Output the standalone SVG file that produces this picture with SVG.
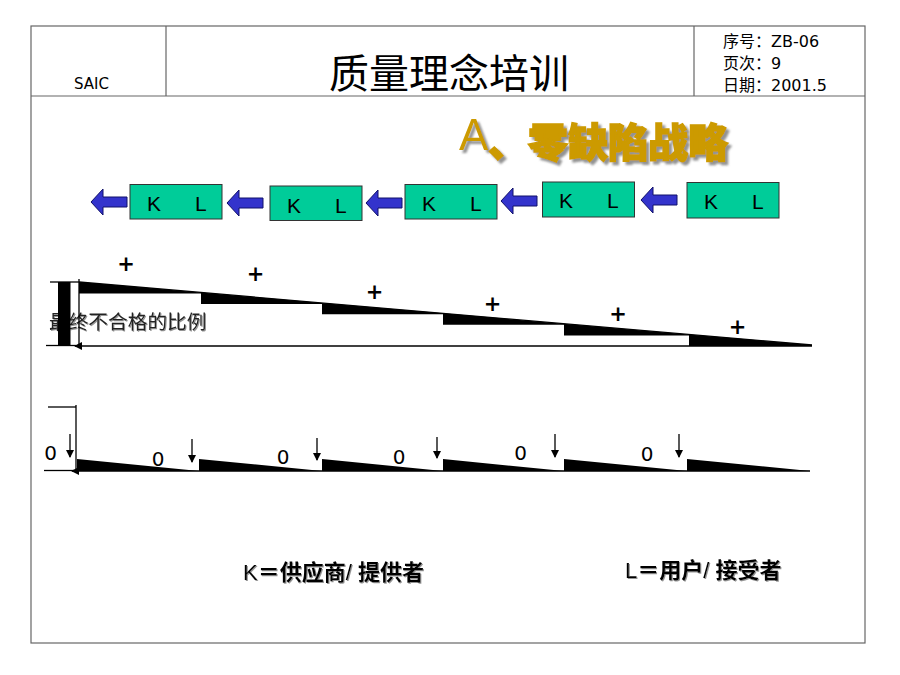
<svg xmlns="http://www.w3.org/2000/svg" width="900" height="675" viewBox="0 0 900 675">
<style>
.frame{fill:none;stroke:#666;stroke-width:1.2}
.box{fill:#00CC99;stroke:#333;stroke-width:1}
.kl{font-family:"Liberation Sans",Arial,sans-serif;font-size:21px;fill:#000}
.arr{fill:#3333CC;stroke:#10106A;stroke-width:1}
.ln{stroke:#000;stroke-width:1.3;fill:none}
.wedge{fill:#000}
.plus{font-family:"DejaVu Sans",sans-serif;font-size:21px;font-weight:bold;text-anchor:middle;fill:#000}
.zero{font-family:"DejaVu Sans",sans-serif;font-size:20px;text-anchor:middle;fill:#000}
.hdr{font-family:"DejaVu Sans","Noto Sans CJK SC",sans-serif;font-size:16px;fill:#000}
.leg{font-family:"Liberation Sans","Noto Sans CJK SC",sans-serif;font-size:22px;fill:#000}
</style>
<defs>
<filter id="sh" x="-10%" y="-20%" width="130%" height="160%">
<feDropShadow dx="3" dy="3" stdDeviation="1.2" flood-color="#777" flood-opacity="0.8"/>
</filter>
<filter id="sh2" x="-10%" y="-20%" width="130%" height="160%">
<feDropShadow dx="1" dy="1" stdDeviation="0.6" flood-color="#888" flood-opacity="0.9"/>
</filter>
<marker id="ah" markerWidth="8" markerHeight="8" refX="7" refY="4" orient="auto" markerUnits="userSpaceOnUse">
<path d="M0,0 L8,4 L0,8 Z" fill="#000"/>
</marker>
<path id="bluearrow" d="M0,0 L12,-13 L12,-5 L36,-5 L36,5 L12,5 L12,13 Z"/>
</defs>
<rect width="900" height="675" fill="#fff"/>

<g id="header">
<rect class="frame" x="31" y="26" width="834" height="617"/>
<line class="frame" x1="31" y1="96" x2="865" y2="96"/>
<line class="frame" x1="166" y1="26" x2="166" y2="96"/>
<line class="frame" x1="694" y1="26" x2="694" y2="96"/>
<text x="74" y="89" font-family="DejaVu Sans,sans-serif" font-size="15" fill="#000">SAIC</text>
<text x="449" y="88" text-anchor="middle" font-family="Noto Sans CJK SC,sans-serif" font-size="40" fill="#000">质量理念培训</text>
<text class="hdr" x="723" y="47">序号：ZB-06</text>
<text class="hdr" x="723" y="69">页次：9</text>
<text class="hdr" x="723" y="91">日期：2001.5</text>
</g>

<g id="heading" filter="url(#sh)">
<text x="459" y="150" font-family="Liberation Sans,sans-serif" font-size="44" fill="#CC9A00">A</text>
<text x="488" y="157" font-family="Noto Sans CJK SC,sans-serif" font-size="40" font-weight="900" fill="#CC9A00" stroke="#CC9A00" stroke-width="1.5">、零缺陷战略</text>
</g>

<g id="connectors">
<use href="#bluearrow" class="arr" transform="translate(91,202)"/>
<use href="#bluearrow" class="arr" transform="translate(227,203)"/>
<use href="#bluearrow" class="arr" transform="translate(366,203)"/>
<use href="#bluearrow" class="arr" transform="translate(501,201)"/>
<use href="#bluearrow" class="arr" transform="translate(641,200)"/>
</g>

<g id="node1"><rect class="box" x="130" y="184.5" width="92" height="34.5"/><text class="kl" x="147" y="211">K</text><text class="kl" x="195" y="211">L</text></g>
<g id="node2"><rect class="box" x="270" y="186" width="92" height="34.5"/><text class="kl" x="287" y="213">K</text><text class="kl" x="335" y="213">L</text></g>
<g id="node3"><rect class="box" x="405" y="184.5" width="92" height="34.5"/><text class="kl" x="422" y="211">K</text><text class="kl" x="470" y="211">L</text></g>
<g id="node4"><rect class="box" x="542.5" y="182" width="92" height="35"/><text class="kl" x="559" y="208">K</text><text class="kl" x="607" y="208">L</text></g>
<g id="node5"><rect class="box" x="687" y="182.5" width="92" height="35.5"/><text class="kl" x="704" y="209">K</text><text class="kl" x="752" y="209">L</text></g>

<g id="chart-top">
<text x="49" y="329" font-family="Noto Sans CJK SC,sans-serif" font-size="19.7" fill="#222" filter="url(#sh2)">最终不合格的比例</text>
<rect x="58" y="282" width="12.5" height="64" fill="#000"/>
<line class="ln" x1="50" y1="282" x2="79" y2="282" stroke-width="1"/>
<line class="ln" x1="79" y1="279" x2="79" y2="347" stroke-width="1"/>
<line class="ln" x1="46" y1="345.5" x2="76" y2="345.5" stroke-width="1"/>
<line class="ln" x1="812" y1="346" x2="75" y2="346" marker-end="url(#ah)"/>
<line class="ln" x1="79" y1="282" x2="812" y2="345" stroke-width="1"/>
<polygon class="wedge" points="79,282 201,292.5 201,293.5 79,293.5"/>
<polygon class="wedge" points="201,292.5 322,302.9 322,304 201,304"/>
<polygon class="wedge" points="322,302.9 443,313.3 443,314.3 322,314.3"/>
<polygon class="wedge" points="443,313.3 564,323.7 564,324.7 443,324.7"/>
<polygon class="wedge" points="564,323.7 689,334.4 689,335.4 564,335.4"/>
<polygon class="wedge" points="689,334.4 812,345 812,346 689,346"/>
<text class="plus" x="126" y="271">+</text>
<text class="plus" x="255.5" y="281">+</text>
<text class="plus" x="374.5" y="299">+</text>
<text class="plus" x="492.5" y="311">+</text>
<text class="plus" x="618" y="321">+</text>
<text class="plus" x="737.5" y="334">+</text>
</g>

<g id="chart-bottom">
<line class="ln" x1="48" y1="407" x2="76" y2="407" stroke-width="1"/>
<line class="ln" x1="76" y1="405" x2="76" y2="471" stroke-width="1"/>
<line class="ln" x1="44" y1="470.5" x2="74" y2="470.5" stroke-width="1"/>
<line class="ln" x1="810" y1="471" x2="72" y2="471" marker-end="url(#ah)"/>
<polygon class="wedge" points="77,459 199,471 77,471"/>
<polygon class="wedge" points="199,459 322,471 199,471"/>
<polygon class="wedge" points="322,459 443,471 322,471"/>
<polygon class="wedge" points="443,459 564,471 443,471"/>
<polygon class="wedge" points="564,459 687,471 564,471"/>
<polygon class="wedge" points="687,459 810,471 687,471"/>
<text class="zero" x="50.5" y="460">0</text>
<text class="zero" x="158" y="466">0</text>
<text class="zero" x="283" y="464">0</text>
<text class="zero" x="399" y="464">0</text>
<text class="zero" x="520.5" y="460">0</text>
<text class="zero" x="647" y="461">0</text>
<line class="ln" x1="70" y1="434" x2="70" y2="457" stroke-width="1" marker-end="url(#ah)"/>
<line class="ln" x1="192" y1="439" x2="192" y2="462" stroke-width="1" marker-end="url(#ah)"/>
<line class="ln" x1="317" y1="438" x2="317" y2="460" stroke-width="1" marker-end="url(#ah)"/>
<line class="ln" x1="437" y1="437" x2="437" y2="458" stroke-width="1" marker-end="url(#ah)"/>
<line class="ln" x1="555" y1="434" x2="555" y2="457" stroke-width="1" marker-end="url(#ah)"/>
<line class="ln" x1="679" y1="434" x2="679" y2="457" stroke-width="1" marker-end="url(#ah)"/>
</g>

<g id="legend" filter="url(#sh2)">
<text class="leg" x="243" y="580">K<tspan font-weight="bold">＝供应商</tspan>/ <tspan font-weight="bold">提供者</tspan></text>
<text class="leg" x="625" y="578">L<tspan font-weight="bold">＝用户</tspan>/ <tspan font-weight="bold">接受者</tspan></text>
</g>
</svg>
